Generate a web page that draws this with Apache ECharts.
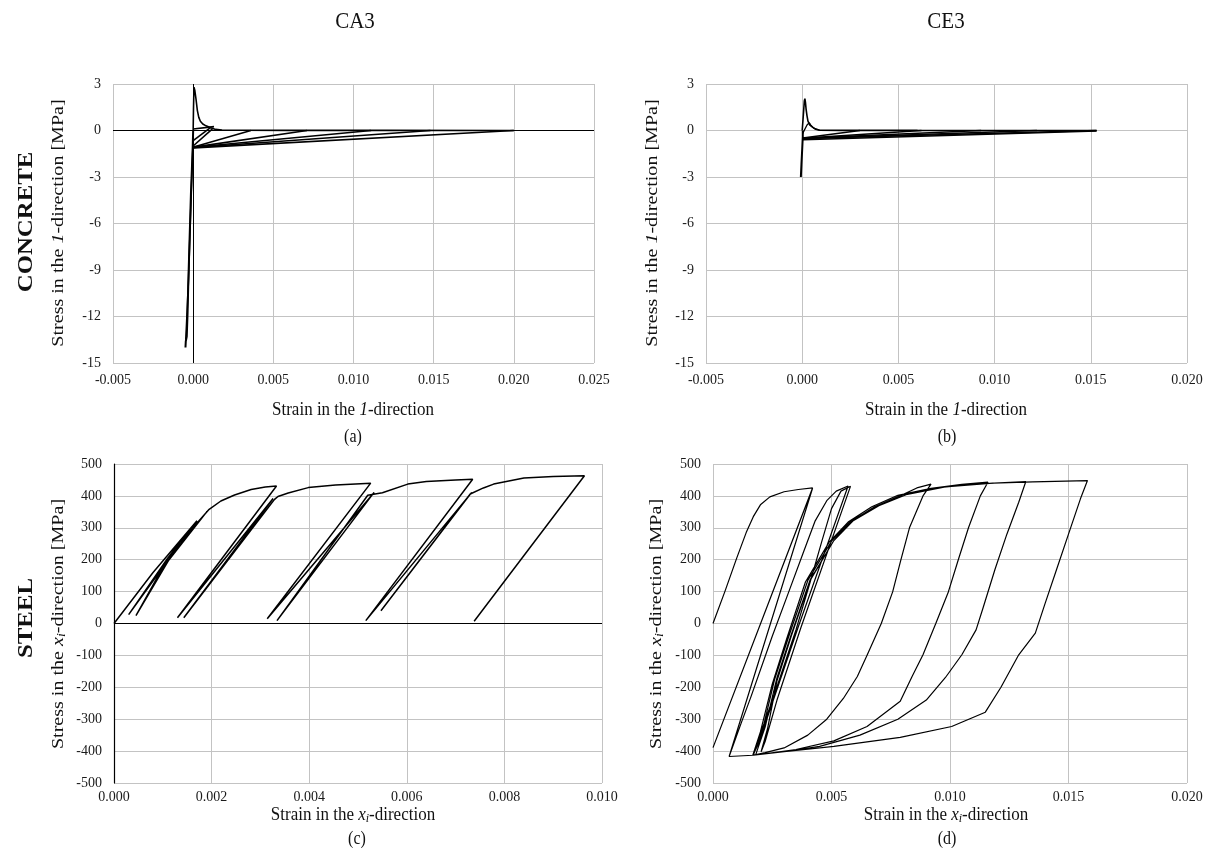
<!DOCTYPE html>
<html>
<head>
<meta charset="utf-8">
<script src="https://cdn.jsdelivr.net/npm/echarts@6/dist/echarts.min.js"></script>
<style>
html,body{margin:0;padding:0;background:#fff;}
#chart{width:1211px;height:850px;}
</style>
</head>
<body>
<div id="chart"></div>
<script>
// ---------------- DATA ----------------
// Tick values
const concXTicksA = [-0.005, 0.000, 0.005, 0.010, 0.015, 0.020, 0.025];
const concXTicksB = [-0.005, 0.000, 0.005, 0.010, 0.015, 0.020];
const concYTicks = [-15, -12, -9, -6, -3, 0, 3];
const steelXTicksC = [0.000, 0.002, 0.004, 0.006, 0.008, 0.010];
const steelXTicksD = [0.000, 0.005, 0.010, 0.015, 0.020];
const steelYTicks = [-500, -400, -300, -200, -100, 0, 100, 200, 300, 400, 500];

// (a) CA3 concrete: strain, stress [MPa]
const ca3ConcTension = [[0,0],[0.00002,1.4],[0.00005,2.8],[0.0001,2.6],[0.00018,2.0],[0.00026,1.3],[0.00035,0.85],[0.00045,0.6],[0.0006,0.42],[0.0008,0.3],[0.0011,0.18],[0.0014,0.07],[0.0018,0.03],[0.003,0.02],[0.006,0.01],[0.012,0.005],[0.020,0]];
const ca3ConcCompression = [[0,0],[-0.00003,-1.1],[-0.00008,-2.5],[-0.00014,-4.1],[-0.0002,-6.2],[-0.00026,-8.3],[-0.00031,-10.1],[-0.00035,-11.8],[-0.0004,-13.3],[-0.00046,-13.6],[-0.00048,-14.0]];
const ca3ConcReturn = [[-0.00046,-13.5],[-0.00041,-12.4],[-0.00029,-9.6],[-0.00018,-6.0],[-0.0001,-3.5],[-0.00002,-1.2],[0.00005,-1.07]];
const ca3ConcUnload = [
  [[0.00003,-1.07],[0.0036,0]],
  [[0.00003,-1.07],[0.0071,0]],
  [[0.00003,-1.08],[0.0111,0]],
  [[0.00005,-1.1],[0.0148,0]],
  [[0.00005,-1.12],[0.0200,0]],
  [[0,-0.66],[0.0011,0.2]],
  [[0,-1.0],[0.0012,0.1]],
  [[0,0.1],[0.0013,0.25]]
];

// (b) CE3 concrete
const ce3ConcTension = [[0,0],[0.00006,1.0],[0.00011,1.9],[0.00014,2.05],[0.00017,1.8],[0.0002,1.4],[0.00025,0.95],[0.0003,0.6],[0.0004,0.35],[0.00055,0.2],[0.0007,0.08],[0.0009,0.02],[0.002,0.01],[0.006,0.005],[0.0153,0]];
const ce3ConcBump = [[0.00002,-0.2],[0.00025,0.35],[0.00037,0.5],[0.00045,0.35],[0.0006,0.15],[0.0009,0.02]];
const ce3ConcCompression = [[0.00003,0],[0.00003,-0.4],[0,-1.2],[-0.00004,-2.2],[-0.00007,-3.0]];
const ce3ConcUnload = [
  [[0.00003,-0.48],[0.0030,0]],
  [[0.00003,-0.5],[0.0062,0]],
  [[0.00003,-0.5],[0.0093,0]],
  [[0.00003,-0.52],[0.0122,0]],
  [[0.00003,-0.52],[0.0153,0]],
  [[0.00003,-0.6],[0.0153,-0.03]]
];

// (c) CA3 steel
const ca3Steel = [[0,0],[0.0008,160],[0.0017,322],[0.0011,205],[0.0003,28],[0.0012,218],[0.0019,350],[0.0010,175],[0.00045,25],[0.0013,245],[0.00195,358],[0.00219,384],[0.00247,403],[0.00281,420],[0.0031,428],[0.00333,431],[0.0013,18],[0.00326,392],[0.00143,18],[0.00329,389],[0.00336,398],[0.00357,409],[0.00398,426],[0.00454,434],[0.00526,440],[0.00314,15],[0.00533,411],[0.00334,9],[0.0052,402],[0.0055,410],[0.00602,437],[0.0064,445],[0.007,450],[0.00735,452],[0.00516,9],[0.00733,411],[0.00547,40],[0.0073,406],[0.00757,425],[0.00778,437],[0.0084,456],[0.009,461],[0.00964,463],[0.00738,7]];

// (d) CE3 steel
const ce3Steel = [
  [0,0],[0.0005,100],[0.001,205],[0.0014,285],[0.0017,335],[0.002,372],[0.0024,397],[0.003,413],[0.0036,420],[0.0042,425],
  [0,-389],[0.0042,424],[0.00068,-417],[0.00168,-413],[0.00068,-417],
  [0.0012,-310],[0.0016,-230],[0.0025,-40],[0.0032,100],[0.0038,220],[0.0043,320],[0.0048,385],[0.0052,415],[0.0057,431],
  [0.0036,-10],[0.0025,-250],[0.0019,-380],[0.00168,-413],
  [0.0026,-220],[0.0035,-20],[0.0041,130],[0.0046,260],[0.0050,360],[0.0054,415],[0.0058,430],
  [0.0037,-15],[0.0027,-240],[0.0022,-370],[0.00203,-402],
  [0.0023,-330],[0.0027,-180],[0.0033,-40],[0.0041,135],[0.0051,260],[0.0058,318],[0.0068,365],[0.0079,400],[0.0086,425],[0.0092,437],
  [0.00886,400],[0.00829,300],[0.00793,200],[0.00758,99],[0.0071,0],[0.00651,-98],[0.00609,-166],[0.0055,-235],[0.0048,-300],[0.0040,-350],[0.003,-390],[0.0022,-405],[0.00168,-413],
  [0.0020,-340],[0.0025,-190],[0.0031,-50],[0.0039,130],[0.0049,255],[0.0057,318],[0.0067,366],[0.0078,402],[0.0092,424],[0.0105,436],[0.0116,443],
  [0.01128,400],[0.01078,300],[0.01035,200],[0.00993,99],[0.0094,0],[0.00886,-98],[0.0084,-166],[0.0079,-244],[0.0065,-323],[0.0051,-368],[0.0035,-395],[0.00225,-408],[0.0017,-413],
  [0.0021,-330],[0.0026,-175],[0.0032,-40],[0.0040,135],[0.005,258],[0.0058,320],[0.0069,368],[0.008,404],[0.0095,426],[0.0112,438],[0.0132,445],
  [0.0129,380],[0.0124,280],[0.0119,170],[0.0114,50],[0.0111,-20],[0.0105,-98],[0.0098,-170],[0.009,-240],[0.0078,-300],[0.0062,-350],[0.0045,-385],[0.003,-402],[0.0018,-412],
  [0.0022,-325],[0.0027,-170],[0.0033,-35],[0.0041,137],[0.0051,260],[0.0059,321],[0.007,369],[0.0082,405],[0.0098,428],[0.0118,440],[0.0135,444],[0.0158,448],
  [0.0155,390],[0.015,280],[0.0145,170],[0.014,60],[0.0136,-30],[0.0129,-98],[0.01215,-200],[0.01149,-278],[0.01007,-323],[0.0079,-357],[0.0051,-385],[0.0030,-402],[0.0017,-413]
];

// ---------------- CHART ----------------
const FONT = 'Liberation Serif';
const GRID_COLOR = '#c3c3c3';
const chart = echarts.init(document.getElementById('chart'), null, {renderer: 'canvas'});

const grids = [
  {left: 113, top: 84, width: 481, height: 279},
  {left: 706, top: 84, width: 481, height: 279},
  {left: 114, top: 464, width: 488, height: 319},
  {left: 713, top: 464, width: 474, height: 319}
];

function xAxisOf(i, ticks, margin) {
  const step = +(ticks[1] - ticks[0]).toFixed(6);
  return {
    type: 'value', gridIndex: i, min: ticks[0], max: ticks[ticks.length - 1], interval: step,
    axisLine: {show: false, onZero: false}, axisTick: {show: false},
    splitLine: {show: true, lineStyle: {color: GRID_COLOR, width: 1}},
    axisLabel: {fontFamily: FONT, fontSize: 14, color: '#1a1a1a', margin: margin,
      formatter: v => (Math.abs(v) < 1e-12 ? 0 : v).toFixed(3)}
  };
}
function yAxisOf(i, ticks, margin, black) {
  const step = ticks[1] - ticks[0];
  return {
    type: 'value', gridIndex: i, min: ticks[0], max: ticks[ticks.length - 1], interval: step,
    axisLine: {show: !!black, onZero: false, lineStyle: {color: '#000', width: 1.2}},
    axisTick: {show: false},
    splitLine: {show: true, lineStyle: {color: GRID_COLOR, width: 1}},
    axisLabel: {fontFamily: FONT, fontSize: 14, color: '#1a1a1a', margin: margin}
  };
}

const series = [];
function addLine(gi, data, width, markData) {
  const s = {
    type: 'line', xAxisIndex: gi, yAxisIndex: gi, data: data, showSymbol: false, symbol: 'none',
    lineStyle: {color: '#000', width: width}, silent: true, animation: false, z: 3
  };
  if (markData) {
    s.markLine = {silent: true, symbol: ['none', 'none'], label: {show: false},
      lineStyle: {color: '#000', type: 'solid', width: 1}, data: markData, animation: false};
  }
  series.push(s);
}

// (a)
addLine(0, ca3ConcTension, 1.6, [{yAxis: 0}, {xAxis: 0}]);
addLine(0, ca3ConcCompression, 2);
addLine(0, ca3ConcReturn, 1.6);
ca3ConcUnload.forEach(seg => addLine(0, seg, 1.6));
// (b)
addLine(1, ce3ConcTension, 1.6);
addLine(1, ce3ConcBump, 1.3);
addLine(1, ce3ConcCompression, 2);
ce3ConcUnload.forEach(seg => addLine(1, seg, 1.6));
// (c)
addLine(2, ca3Steel, 1.5, [{yAxis: 0}]);
// (d)
addLine(3, ce3Steel, 1.2);

// text helper; the reference is slightly stretched vertically
const VSTRETCH = 1.18;
function txt(x, y, text, size, opts) {
  opts = opts || {};
  const rot = opts.rot || 0;
  return {
    type: 'text', x: x, y: y, rotation: rot, silent: true, z: 10,
    scaleX: rot ? VSTRETCH : 1, scaleY: rot ? 1 : 1.12,
    style: {
      text: text, fontFamily: FONT, fontSize: size, fontWeight: opts.bold ? 'bold' : 'normal',
      fill: '#111', align: 'center', verticalAlign: 'middle', rich: opts.rich
    }
  };
}
const R = Math.PI / 2;
function richSet(size) {
  return {
    n: {fontFamily: FONT, fontSize: size, fill: '#111', lineHeight: size + 4, verticalAlign: 'bottom'},
    it: {fontFamily: FONT, fontSize: size, fill: '#111', fontStyle: 'italic', lineHeight: size + 4, verticalAlign: 'bottom'},
    sub: {fontFamily: FONT, fontSize: Math.round(size * 0.68), fill: '#111', fontStyle: 'italic', lineHeight: Math.round(size*0.68), verticalAlign: 'bottom'}
  };
}
const AX = 17;
const graphics = [
  txt(355, 22, 'CA3', 21),
  txt(946, 22, 'CE3', 21),
  txt(27, 222, 'CONCRETE', 21, {rot: R, bold: true}),
  txt(27, 618, 'STEEL', 21, {rot: R, bold: true}),
  txt(57, 223, '{n|Stress in the }{it|1}{n|-direction [MPa]}', AX, {rot: R, rich: richSet(AX)}),
  txt(651, 223, '{n|Stress in the }{it|1}{n|-direction [MPa]}', AX, {rot: R, rich: richSet(AX)}),
  txt(57, 624, '{n|Stress in the }{it|x}{sub|i}{n|-direction [MPa]}', AX, {rot: R, rich: richSet(AX)}),
  txt(655, 624, '{n|Stress in the }{it|x}{sub|i}{n|-direction [MPa]}', AX, {rot: R, rich: richSet(AX)}),
  txt(353, 408, '{n|Strain in the }{it|1}{n|-direction}', AX, {rich: richSet(AX)}),
  txt(946, 408, '{n|Strain in the }{it|1}{n|-direction}', AX, {rich: richSet(AX)}),
  txt(353, 813, '{n|Strain in the }{it|x}{sub|i}{n|-direction}', AX, {rich: richSet(AX)}),
  txt(946, 813, '{n|Strain in the }{it|x}{sub|i}{n|-direction}', AX, {rich: richSet(AX)}),
  txt(353, 437, '(a)', 16),
  txt(947, 437, '(b)', 16),
  txt(357, 839, '(c)', 16),
  txt(947, 839, '(d)', 16)
];

chart.setOption({
  animation: false,
  backgroundColor: '#ffffff',
  grid: grids,
  xAxis: [xAxisOf(0, concXTicksA, 10), xAxisOf(1, concXTicksB, 10), xAxisOf(2, steelXTicksC, 7), xAxisOf(3, steelXTicksD, 7)],
  yAxis: [yAxisOf(0, concYTicks, 12, false), yAxisOf(1, concYTicks, 12, false), yAxisOf(2, steelYTicks, 12, true), yAxisOf(3, steelYTicks, 12, false)],
  series: series,
  graphic: graphics
});
</script>
</body>
</html>
